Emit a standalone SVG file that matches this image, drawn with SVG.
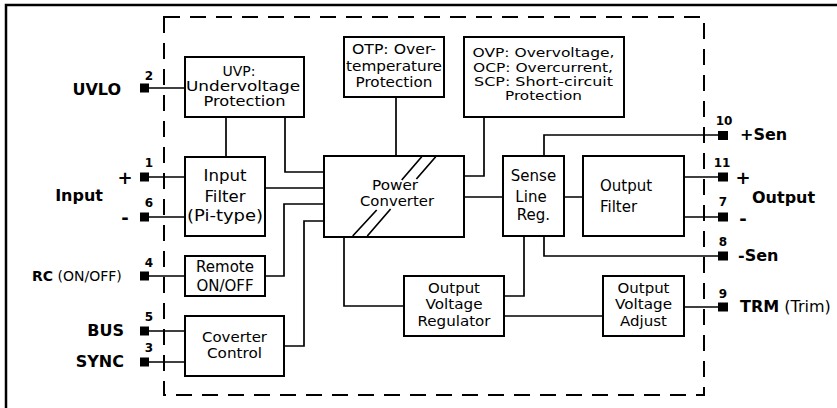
<svg xmlns="http://www.w3.org/2000/svg" width="837" height="408" viewBox="0 0 837 408">
<style>
text{font-family:"DejaVu Sans",Verdana,sans-serif;fill:#000}
.bx rect{fill:#fff;stroke:#000;stroke-width:2}
.t{font-size:15px;text-anchor:middle}
.s14{font-size:14px}
.s13{font-size:13px}
.lbl{font-size:16px;font-weight:bold}
.num{font-size:12px;font-weight:bold;text-anchor:middle}
.sg{font-size:18px;font-weight:bold;text-anchor:middle}
.cn{fill:none;stroke:#000;stroke-width:1.7}
.pin{fill:#000}
</style>
<rect x="6" y="5" width="840" height="420" fill="#fff" stroke="#000" stroke-width="2.5"/>
<g id="connectors" class="cn">
<path d="M149 88H185"/>
<path d="M226 117V157"/>
<path d="M285 117V172H324"/>
<path d="M149 177H185M149 217H185"/>
<path d="M265 188H324"/>
<path d="M149 276H185M265 276H284V204H324"/>
<path d="M149 331H185M149 362H185"/>
<path d="M284 346H304V221H324"/>
<path d="M396 97V156"/>
<path d="M484 117V176H464"/>
<path d="M464 197H503M564 197H583"/>
<path d="M684 177H718M684 217H718"/>
<path d="M544 156V135H718"/>
<path d="M544 236V256H718"/>
<path d="M344 237V306H404"/>
<path d="M524 236V296H504"/>
<path d="M504 316H603"/>
<path d="M684 307H718"/>
</g>
<rect id="module-boundary" x="164" y="17" width="540" height="378" fill="none" stroke="#000" stroke-width="2" stroke-dasharray="16 10"/>
<g class="bx">
<g id="uvp"><rect x="185" y="57" width="119" height="60"/>
<text class="t s14" x="239" y="76">UVP:</text>
<text class="t s14" x="243" y="91" textLength="114" lengthAdjust="spacingAndGlyphs">Undervoltage</text>
<text class="t s14" x="244.5" y="106" textLength="82" lengthAdjust="spacingAndGlyphs">Protection</text></g>
<g id="otp"><rect x="344" y="37" width="100" height="60"/>
<text class="t s14" x="394" y="54" textLength="84" lengthAdjust="spacingAndGlyphs">OTP: Over-</text>
<text class="t s14" x="394" y="71" textLength="96" lengthAdjust="spacingAndGlyphs">temperature</text>
<text class="t s14" x="394" y="87" textLength="77" lengthAdjust="spacingAndGlyphs">Protection</text></g>
<g id="ovp"><rect x="464" y="37" width="160" height="80"/>
<text class="t s13" x="543.5" y="57" textLength="142" lengthAdjust="spacingAndGlyphs">OVP: Overvoltage,</text>
<text class="t s13" x="543" y="72" textLength="140" lengthAdjust="spacingAndGlyphs">OCP: Overcurrent,</text>
<text class="t s13" x="543.5" y="86" textLength="139" lengthAdjust="spacingAndGlyphs">SCP: Short-circuit</text>
<text class="t s13" x="543.5" y="100" textLength="77" lengthAdjust="spacingAndGlyphs">Protection</text></g>
<g id="input-filter"><rect x="185" y="157" width="80" height="79"/>
<text class="t" x="225" y="181" textLength="43" lengthAdjust="spacingAndGlyphs">Input</text>
<text class="t" x="225" y="202" textLength="41" lengthAdjust="spacingAndGlyphs">Filter</text>
<text class="t" x="225" y="221" textLength="76" lengthAdjust="spacingAndGlyphs">(Pi-type)</text></g>
<g id="remote"><rect x="185" y="256" width="80" height="40"/>
<text class="t" x="225" y="272">Remote</text>
<text class="t" x="225" y="291">ON/OFF</text></g>
<g id="converter-control"><rect x="185" y="316" width="99" height="60"/>
<text class="t s14" x="234.5" y="342" textLength="65" lengthAdjust="spacingAndGlyphs">Coverter</text>
<text class="t s14" x="234.5" y="358" textLength="55" lengthAdjust="spacingAndGlyphs">Control</text></g>
<g id="power-converter"><rect x="324" y="156" width="140" height="81"/>
<g class="cn"><path d="M421.7 156.7L401.7 180M376.7 210L352.7 236M435.7 156.7L416.4 179M390.6 209L367.3 236"/></g>
<text class="t s14" x="395" y="190" textLength="46" lengthAdjust="spacingAndGlyphs">Power</text>
<text class="t s14" x="397" y="206" textLength="74" lengthAdjust="spacingAndGlyphs">Converter</text></g>
<g id="sense-line-reg"><rect x="503" y="156" width="61" height="80"/>
<text class="t" x="533.5" y="181">Sense</text>
<text class="t" x="531" y="202">Line</text>
<text class="t" x="533.5" y="220">Reg.</text></g>
<g id="output-filter"><rect x="583" y="156" width="101" height="80"/>
<text class="t" x="600" y="191" style="text-anchor:start">Output</text>
<text class="t" x="600" y="212" style="text-anchor:start">Filter</text></g>
<g id="ovr"><rect x="404" y="276" width="100" height="60"/>
<text class="t s14" x="454" y="293" textLength="52" lengthAdjust="spacingAndGlyphs">Output</text>
<text class="t s14" x="454" y="309" textLength="57" lengthAdjust="spacingAndGlyphs">Voltage</text>
<text class="t s14" x="454" y="326" textLength="73" lengthAdjust="spacingAndGlyphs">Regulator</text></g>
<g id="ova"><rect x="603" y="276" width="81" height="60"/>
<text class="t s14" x="643.5" y="293" textLength="52" lengthAdjust="spacingAndGlyphs">Output</text>
<text class="t s14" x="643.5" y="309" textLength="57" lengthAdjust="spacingAndGlyphs">Voltage</text>
<text class="t s14" x="643.5" y="326" textLength="47" lengthAdjust="spacingAndGlyphs">Adjust</text></g>
</g>
<g id="pins-left">
<rect class="pin" x="140" y="83.5" width="9" height="9"/>
<rect class="pin" x="140" y="172.5" width="9" height="9"/>
<rect class="pin" x="140" y="212.5" width="9" height="9"/>
<rect class="pin" x="140" y="271.5" width="9" height="9"/>
<rect class="pin" x="140" y="326.5" width="9" height="9"/>
<rect class="pin" x="140" y="357.5" width="9" height="9"/>
<text class="num" x="149" y="80">2</text>
<text class="num" x="149" y="167">1</text>
<text class="num" x="149" y="207">6</text>
<text class="num" x="149" y="267">4</text>
<text class="num" x="149" y="321">5</text>
<text class="num" x="149" y="352">3</text>
<text class="lbl" x="121" y="95" text-anchor="end">UVLO</text>
<text class="sg" x="125" y="184">+</text>
<text class="sg" x="125" y="224">-</text>
<text class="lbl" x="103" y="201" text-anchor="end">Input</text>
<text x="32" y="281" style="font-size:14px"><tspan font-weight="bold">RC</tspan> (ON/OFF)</text>
<text class="lbl" x="124" y="336" text-anchor="end">BUS</text>
<text class="lbl" x="124" y="367" text-anchor="end">SYNC</text>
</g>
<g id="pins-right">
<rect class="pin" x="718" y="131" width="10" height="9"/>
<rect class="pin" x="718" y="172.5" width="10" height="9"/>
<rect class="pin" x="718" y="212.5" width="10" height="9"/>
<rect class="pin" x="718" y="251.5" width="10" height="9"/>
<rect class="pin" x="718" y="302.5" width="10" height="9"/>
<text class="num" x="724" y="125">10</text>
<text class="num" x="722" y="167">11</text>
<text class="num" x="723" y="206">7</text>
<text class="num" x="723" y="246">8</text>
<text class="num" x="723" y="298">9</text>
<text class="lbl" x="740" y="140">+Sen</text>
<text class="sg" x="743" y="184">+</text>
<text class="sg" x="743" y="225">-</text>
<text class="lbl" x="752" y="203">Output</text>
<text class="lbl" x="738" y="261">-Sen</text>
<text x="740" y="312" style="font-size:16px"><tspan font-weight="bold">TRM</tspan> (Trim)</text>
</g>
</svg>
